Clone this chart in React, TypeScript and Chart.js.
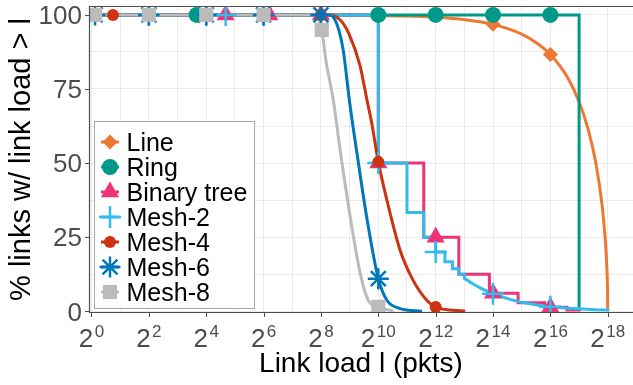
import React, { useEffect, useRef } from 'react';
import { Chart, registerables } from 'chart.js';
import { drawPoint } from 'chart.js/helpers';

Chart.register(...registerables);

// Topologies, listed in drawing order (later ones sit on top)
const NAMES = ['Line', 'Ring', 'Binary tree', 'Mesh-2', 'Mesh-4', 'Mesh-6', 'Mesh-8'];
const COLORS = ['#EE7733', '#009988', '#EE3377', '#33BBEE', '#CC3311', '#0077BB', '#BBBBBB'];
const SHAPES = ['rectRot', 'circle', 'triangle', 'cross', 'circle', 'star', 'rect'];
const RADII = [7.5, 8, 10.5, 11, 6, 10.5, 10];
const SMOOTH = [true, false, false, false, true, true, true];

// Link load (pkts) vs % of links whose load exceeds it; *_MARKS index the marked points
const LINE_LOAD = [1, 512, 1024, 2048, 4096, 8192, 16384, 32768, 49152, 65536, 98304, 131072, 163840, 196608, 229376, 245760, 253952, 258048, 261120, 262144];
const LINE_PCT = [100, 100, 99.8, 99.6, 99.2, 98.4, 96.8, 93.5, 90.1, 86.6, 79.1, 70.7, 61.2, 50, 35.4, 25, 17.7, 12.5, 6.2, 0];
const LINE_MARKS = [6, 9];

const RING_LOAD = [1, 12.7, 1024, 4096, 16384, 65536, 131072, 131072];
const RING_PCT = [100, 100, 100, 100, 100, 100, 100, 0];
const RING_MARKS = [1, 2, 3, 4, 5];

const TREE_LOAD = [1, 25.6, 73.5, 256, 1024, 1024, 3072, 3072, 4096, 7168, 7168, 15000, 15000, 16384, 30000, 30000, 57000, 57000, 65536, 98000, 98000, 131072, 131072];
const TREE_PCT = [100, 100, 100, 100, 100, 50, 50, 25, 25, 25, 12.5, 12.5, 6.1, 6.1, 6.1, 2.9, 2.9, 1.3, 1.3, 1.3, 0.4, 0.4, 0];
const TREE_MARKS = [1, 2, 3, 5, 8, 13, 18];

const MESH2_LOAD = [1, 4, 16, 25.6, 64, 256, 1024, 1024, 2048, 2048, 3072, 3072, 4096, 4096, 5120, 5120, 6144, 6144, 7168, 7168, 8192, 8192, 10240, 12288, 16384, 24576, 32768, 49152, 65536, 98304, 131072, 196608, 262144, 262144];
const MESH2_PCT = [100, 100, 100, 100, 100, 100, 100, 50, 50, 33.3, 33.3, 25, 25, 20, 20, 16.7, 16.7, 14.3, 14.3, 12.5, 12.5, 11.1, 9.1, 7.7, 5.9, 4, 3, 2, 1.5, 1, 0.8, 0.5, 0.4, 0];
const MESH2_MARKS = [1, 2, 3, 4, 5, 7, 13, 24, 28];

const MESH4_LOAD = [1, 1.68, 4, 16, 64, 256, 315, 416, 505, 657, 776, 873, 1024, 1261, 1734, 2369, 3304, 4096, 8360];
const MESH4_PCT = [100, 100, 100, 100, 100, 100, 100, 98, 93.5, 83, 71.5, 63.5, 50.4, 37.5, 20.6, 10.5, 3.7, 1.4, 0];
const MESH4_MARKS = [1, 2, 3, 4, 5, 12, 17];

const MESH6_LOAD = [1, 1.09, 4, 16, 64, 256, 315, 375, 439, 512, 630, 776, 1024, 1261, 1734, 2936];
const MESH6_PCT = [100, 100, 100, 100, 100, 100, 100, 97, 88, 70.5, 50.5, 31.5, 11, 3.7, 0.9, 0];
const MESH6_MARKS = [1, 2, 3, 4, 5, 12];

const MESH8_LOAD = [1, 1.09, 4, 16, 64, 214, 261, 288, 345, 407, 519, 662, 803, 1024, 1478];
const MESH8_PCT = [100, 100, 100, 100, 100, 100, 94.9, 84.8, 71.3, 54.4, 31.9, 12.7, 3.7, 1.5, 0];
const MESH8_MARKS = [1, 2, 3, 4, 6, 13];

const LOADS = [LINE_LOAD, RING_LOAD, TREE_LOAD, MESH2_LOAD, MESH4_LOAD, MESH6_LOAD, MESH8_LOAD];
const PCTS = [LINE_PCT, RING_PCT, TREE_PCT, MESH2_PCT, MESH4_PCT, MESH6_PCT, MESH8_PCT];
const MARKS = [LINE_MARKS, RING_MARKS, TREE_MARKS, MESH2_MARKS, MESH4_MARKS, MESH6_MARKS, MESH8_MARKS];

// Axes: powers of two on x, percentages on y
const X_GRID_EXP = [0, 1, 2, 3, 4, 5, 6, 7, 8, 9, 10, 11, 12, 13, 14, 15, 16, 17, 18];
const X_LABEL_EXP = [0, 2, 4, 6, 8, 10, 12, 14, 16, 18];
const Y_GRID = [0, 12.5, 25, 37.5, 50, 62.5, 75, 87.5, 100];
const Y_LABELS = [0, 25, 50, 75, 100];

const X_TITLE = 'Link load l (pkts)';
const Y_TITLE = '% links w/ link load > l';

const TICK_FONT = '"Liberation Sans", Arial, sans-serif';
const TEXT_FONT = '"Liberation Sans", Arial, sans-serif';

const decorPlugin = {
  id: 'decor',
  afterDraw(chart: any) {
    const { ctx, chartArea: a, scales } = chart;
    const xs = scales.x;
    const ys = scales.y;
    ctx.save();

    // frame: top border, left and bottom axis lines
    ctx.strokeStyle = '#4D4D4D';
    ctx.lineWidth = 1.2;
    ctx.beginPath();
    ctx.moveTo(a.left, a.top + 0.5);
    ctx.lineTo(a.right, a.top + 0.5);
    ctx.moveTo(a.left + 0.5, a.top);
    ctx.lineTo(a.left + 0.5, a.bottom);
    ctx.moveTo(a.left, a.bottom - 0.5);
    ctx.lineTo(a.right, a.bottom - 0.5);
    ctx.stroke();

    // tick marks
    ctx.strokeStyle = '#4D4D4D';
    ctx.lineWidth = 1;
    ctx.beginPath();
    X_LABEL_EXP.forEach((e) => {
      const px = Math.round(xs.getPixelForValue(Math.pow(2, e))) + 0.5;
      ctx.moveTo(px, a.bottom);
      ctx.lineTo(px, a.bottom + 4);
    });
    Y_LABELS.forEach((v) => {
      const py = Math.round(ys.getPixelForValue(v)) + 0.5;
      ctx.moveTo(a.left - 4, py);
      ctx.lineTo(a.left, py);
    });
    ctx.stroke();

    // tick labels
    ctx.fillStyle = '#4D4D4D';
    ctx.textBaseline = 'alphabetic';
    const baseSize = 26;
    const supSize = 17;
    X_LABEL_EXP.forEach((e) => {
      const px = xs.getPixelForValue(Math.pow(2, e));
      ctx.font = `${baseSize}px ${TICK_FONT}`;
      const w2 = ctx.measureText('2').width;
      ctx.font = `${supSize}px ${TICK_FONT}`;
      const sup = String(e);
      const ws = ctx.measureText(sup).width;
      const gap = 1.5;
      const start = px - (w2 + gap + ws) / 2;
      ctx.textAlign = 'left';
      ctx.font = `${baseSize}px ${TICK_FONT}`;
      ctx.fillText('2', start, a.bottom + 34);
      ctx.font = `${supSize}px ${TICK_FONT}`;
      ctx.fillText(sup, start + w2 + gap, a.bottom + 24);
    });
    ctx.font = `${baseSize}px ${TICK_FONT}`;
    ctx.textAlign = 'right';
    Y_LABELS.forEach((v) => {
      const py = ys.getPixelForValue(v);
      ctx.fillText(String(v), a.left - 7, py + baseSize * 0.36);
    });

    // axis titles
    ctx.fillStyle = '#000000';
    ctx.font = `28px ${TEXT_FONT}`;
    ctx.textAlign = 'center';
    ctx.fillText(X_TITLE, (a.left + a.right) / 2, a.bottom + 59);
    ctx.save();
    ctx.font = `29px ${TEXT_FONT}`;
    ctx.translate(30, (a.top + a.bottom) / 2);
    ctx.rotate(-Math.PI / 2);
    ctx.fillText(Y_TITLE, 0, 0);
    ctx.restore();

    // legend box
    const bx = 94.5, by = 121.5, bw = 160, bh = 187;
    ctx.fillStyle = '#FFFFFF';
    ctx.fillRect(bx, by, bw, bh);
    ctx.strokeStyle = '#A6A6A6';
    ctx.lineWidth = 1;
    ctx.strokeRect(bx, by, bw, bh);
    const rowH = 25;
    const legendSize = 25;
    NAMES.forEach((name, i) => {
      const cy = 142 + i * rowH;
      ctx.strokeStyle = COLORS[i];
      ctx.lineWidth = 3;
      ctx.beginPath();
      ctx.moveTo(101, cy);
      ctx.lineTo(119, cy);
      ctx.stroke();
      ctx.fillStyle = COLORS[i];
      ctx.strokeStyle = COLORS[i];
      const outline = SHAPES[i] === 'cross' || SHAPES[i] === 'star';
      ctx.lineWidth = outline ? 2.5 : 0;
      drawPoint(ctx, { pointStyle: SHAPES[i], radius: RADII[i], rotation: 0, borderWidth: outline ? 2.5 : 0 }, 110, cy);
      ctx.fillStyle = '#000000';
      ctx.font = `${legendSize}px ${TEXT_FONT}`;
      ctx.textAlign = 'left';
      ctx.fillText(name, 126.5, cy + legendSize * 0.36);
    });

    ctx.restore();
  },
};

export default function App() {
  const canvasRef = useRef<HTMLCanvasElement | null>(null);

  useEffect(() => {
    const canvas = canvasRef.current;
    if (!canvas) return;

    const lineSets = NAMES.map((name, i) => ({
      label: name,
      data: LOADS[i].map((l, j) => ({ x: l, y: PCTS[i][j] })),
      borderColor: COLORS[i],
      backgroundColor: COLORS[i],
      borderWidth: 3,
      pointRadius: 0,
      fill: false,
      cubicInterpolationMode: SMOOTH[i] ? 'monotone' : 'default',
      tension: 0,
      clip: 0,
      order: 100 - i,
    }));

    const markerSets = NAMES.map((name, i) => {
      const outline = SHAPES[i] === 'cross' || SHAPES[i] === 'star';
      return {
        label: name + ' points',
        data: MARKS[i].map((j) => ({ x: LOADS[i][j], y: PCTS[i][j] })),
        showLine: false,
        borderColor: COLORS[i],
        backgroundColor: COLORS[i],
        pointStyle: SHAPES[i],
        pointRadius: RADII[i],
        pointBorderWidth: outline ? 2.5 : 0,
        pointBackgroundColor: COLORS[i],
        pointBorderColor: COLORS[i],
        clip: 0,
        order: 90 - i,
      };
    });

    const chart = new Chart(canvas, {
      type: 'line',
      data: { datasets: [...lineSets, ...markerSets] as any },
      options: {
        animation: false,
        responsive: false,
        devicePixelRatio: 1,
        events: [],
        layout: { autoPadding: false, padding: { top: 6, left: 0, right: 0, bottom: 0 } },
        plugins: { legend: { display: false }, tooltip: { enabled: false } },
        scales: {
          x: {
            type: 'logarithmic',
            min: Math.pow(2, -0.087),
            max: Math.pow(2, 18.88),
            afterBuildTicks: (s: any) => {
              s.ticks = X_GRID_EXP.map((e) => ({ value: Math.pow(2, e) }));
            },
            afterFit: (s: any) => {
              s.height = 72;
            },
            ticks: { display: false },
            grid: { color: '#EBEBEB', lineWidth: 1, drawTicks: false },
            border: { display: false },
          },
          y: {
            type: 'linear',
            min: -0.6,
            max: 103,
            afterBuildTicks: (s: any) => {
              s.ticks = Y_GRID.map((v) => ({ value: v }));
            },
            afterFit: (s: any) => {
              s.width = 89;
            },
            ticks: { display: false },
            grid: { color: '#EBEBEB', lineWidth: 1, drawTicks: false },
            border: { display: false },
          },
        },
      } as any,
      plugins: [decorPlugin],
    });

    return () => chart.destroy();
  }, []);

  return (
    <div style={{ position: 'fixed', left: 0, top: 0, width: 633, height: 385, background: '#FFFFFF' }}>
      <canvas ref={canvasRef} width={633} height={385} style={{ display: 'block' }} />
    </div>
  );
}
